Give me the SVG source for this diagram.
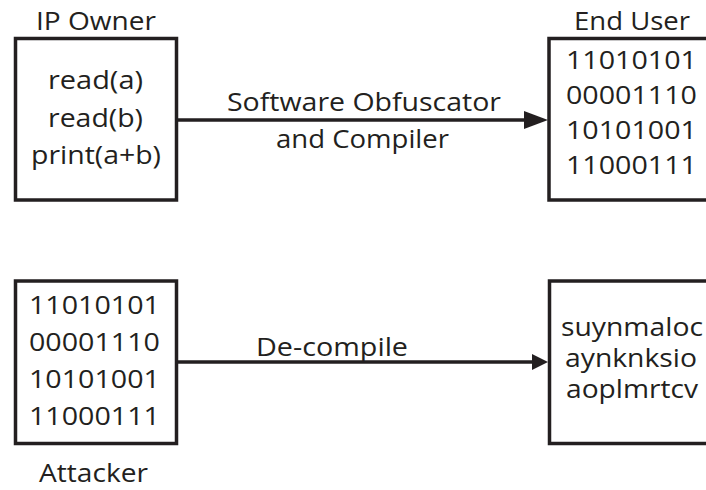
<svg xmlns="http://www.w3.org/2000/svg" width="706" height="490" viewBox="0 0 706 490">
<style>
.box{fill:#fff;stroke:#231f20;stroke-width:3.5}
.t{font-family:"Open Sans","Noto Sans",sans-serif;font-size:25.5px;fill:#231f20;text-anchor:middle}
.ln{stroke:#231f20;stroke-width:3.5;fill:none}
.ah{fill:#231f20}
</style>
<rect width="706" height="490" fill="#fff"/>
<g id="ip-owner">
<rect class="box" x="15.5" y="38.5" width="161" height="161.5"/>
<text class="t" x="96" y="30" textLength="120" lengthAdjust="spacingAndGlyphs">IP Owner</text>
<text class="t" x="95.5" y="89" textLength="95" lengthAdjust="spacingAndGlyphs">read(a)</text>
<text class="t" x="95.5" y="127" textLength="95" lengthAdjust="spacingAndGlyphs">read(b)</text>
<text class="t" x="96" y="164" textLength="130" lengthAdjust="spacingAndGlyphs">print(a+b)</text>
</g>
<g id="end-user">
<rect class="box" x="549" y="38.5" width="200" height="161.5"/>
<text class="t" x="632" y="30" textLength="116" lengthAdjust="spacingAndGlyphs">End User</text>
<text class="t" x="631.5" y="69" textLength="131" lengthAdjust="spacingAndGlyphs">11010101</text>
<text class="t" x="631.5" y="104" textLength="131" lengthAdjust="spacingAndGlyphs">00001110</text>
<text class="t" x="631.5" y="139" textLength="131" lengthAdjust="spacingAndGlyphs">10101001</text>
<text class="t" x="631.5" y="174" textLength="131" lengthAdjust="spacingAndGlyphs">11000111</text>
</g>
<g id="attacker">
<rect class="box" x="15.5" y="281" width="161" height="162.5"/>
<text class="t" x="94.5" y="314" textLength="131" lengthAdjust="spacingAndGlyphs">11010101</text>
<text class="t" x="94.5" y="351" textLength="131" lengthAdjust="spacingAndGlyphs">00001110</text>
<text class="t" x="94.5" y="388" textLength="131" lengthAdjust="spacingAndGlyphs">10101001</text>
<text class="t" x="94.5" y="425" textLength="131" lengthAdjust="spacingAndGlyphs">11000111</text>
<text class="t" x="93.5" y="482" textLength="109" lengthAdjust="spacingAndGlyphs">Attacker</text>
</g>
<g id="decompiled">
<rect class="box" x="549.5" y="281" width="200" height="162.5"/>
<text class="t" x="632" y="336" textLength="142" lengthAdjust="spacingAndGlyphs">suynmaloc</text>
<text class="t" x="631" y="367" textLength="132" lengthAdjust="spacingAndGlyphs">aynknksio</text>
<text class="t" x="632" y="398" textLength="132" lengthAdjust="spacingAndGlyphs">aoplmrtcv</text>
</g>
<g id="connectors">
<line class="ln" x1="177" y1="120" x2="528" y2="120"/>
<polygon class="ah" points="524,111 548,120 524,129"/>
<text class="t" x="364" y="111" textLength="274" lengthAdjust="spacingAndGlyphs">Software Obfuscator</text>
<text class="t" x="362.5" y="148" textLength="173" lengthAdjust="spacingAndGlyphs">and Compiler</text>
<line class="ln" x1="177" y1="362" x2="535" y2="362"/>
<polygon class="ah" points="532,354 548,362 532,370"/>
<text class="t" x="332" y="356" textLength="152" lengthAdjust="spacingAndGlyphs">De-compile</text>
</g>
</svg>
